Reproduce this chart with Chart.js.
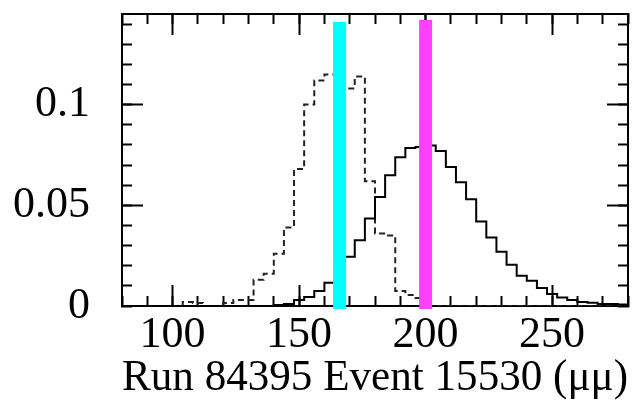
<!DOCTYPE html>
<html>
<head>
<meta charset="utf-8">
<title>Run 84395 Event 15530</title>
<script src="https://cdn.jsdelivr.net/npm/chart.js@4.4.1/dist/chart.umd.min.js"></script>
<style>
  html, body { margin: 0; padding: 0; background: #fff; }
  #wrap { width: 637px; height: 402px; }
</style>
</head>
<body>
<div id="wrap"><canvas id="histChart" width="637" height="402"></canvas></div>
<script>
// Bin edges (4 units wide); last entry closes the final bin
const binEdges = [80, 84, 88, 92, 96, 100, 104, 108, 112, 116,
                  120, 124, 128, 132, 136, 140, 144, 148, 152, 156,
                  160, 164, 168, 172, 176, 180, 184, 188, 192, 196,
                  200, 204, 208, 212, 216, 220, 224, 228, 232, 236,
                  240, 244, 248, 252, 256, 260, 264, 268, 272, 276, 280];

// Solid histogram (one value per bin)
const solidHist = [0, 0, 0, 0, 0, 0, 0, 0, 0, 0,
                   0, 0, 0, 0, 0, 0.0005, 0.001, 0.003, 0.0045, 0.0075,
                   0.0115, 0.017, 0.0245, 0.0327, 0.0434, 0.0541, 0.0649, 0.0739, 0.0785, 0.079,
                   0.0797, 0.077, 0.069, 0.0615, 0.053, 0.042, 0.034, 0.027, 0.0205, 0.015,
                   0.0125, 0.009, 0.006, 0.0042, 0.003, 0.002, 0.0016, 0.001, 0.001, 0.0008];

// Dashed histogram (one value per bin)
const dashedHist = [0, 0, 0, 0, 0, 0, 0.002, 0.0015, 0, 0,
                    0.0015, 0.003, 0.003, 0.013, 0.016, 0.026, 0.039, 0.068, 0.100, 0.112,
                    0.115, 0.114, 0.108, 0.114, 0.062, 0.036, 0.035, 0.0075, 0.0055, 0.004,
                    0, 0, 0, 0, 0, 0, 0, 0, 0, 0,
                    0, 0, 0, 0, 0, 0, 0, 0, 0, 0];

// Vertical markers
const markerX = [166, 200];
const markerTop = [0.141, 0.142];
const markerBottom = -0.0015;
const markerColors = ['#00ffff', '#ff40ff'];

// Axis ticks and labels
const xMinorTicks = [80, 90, 100, 110, 120, 130, 140, 150, 160, 170, 180,
                     190, 200, 210, 220, 230, 240, 250, 260, 270, 280];
const xMajorTicks = [100, 150, 200, 250];
const xLabelValues = [100, 150, 200, 250];
const yMinorTicks = [0, 0.01, 0.02, 0.03, 0.04, 0.05, 0.06, 0.07,
                     0.08, 0.09, 0.1, 0.11, 0.12, 0.13, 0.14];
const yMajorTicks = [0.05, 0.1];
const yLabelValues = [0, 0.05, 0.1];
const xTitle = 'Run 84395 Event 15530 (\u03bc\u03bc)';

const X_MIN = 80, X_MAX = 280, Y_MIN = 0, Y_MAX = 0.145;
const serif = { family: "'Liberation Serif', 'Times New Roman', serif", size: 44 };

// --- helpers ---
function toSteps(values) {
    return binEdges.map((x, i) => ({ x: x, y: values[Math.min(i, values.length - 1)] }));
}

function setTicks(list) {
    return scale => { scale.ticks = list.map(v => ({ value: v })); };
}

function hasLabel(list, value) {
    return list.some(v => Math.abs(v - value) < 1e-9);
}

// fix an axis to a given thickness and stop it from padding the chart area
function fixSize(horizontal, size) {
    return scale => {
        if (horizontal) scale.height = size; else scale.width = size;
        scale.paddingTop = 0;
        scale.paddingBottom = 0;
        scale.paddingLeft = 0;
        scale.paddingRight = 0;
    };
}

// Plain frame axis: ticks pointing inside, no labels
function frameAxis(position, tickList, tickLen, weight, size, showBorder) {
    const horizontal = position === 'top' || position === 'bottom';
    return {
        type: 'linear',
        position: position,
        min: horizontal ? X_MIN : Y_MIN,
        max: horizontal ? X_MAX : Y_MAX,
        weight: weight,
        border: { display: showBorder, color: '#000', width: 2 },
        grid: { drawOnChartArea: false, tickLength: tickLen, tickWidth: 2, tickColor: '#000' },
        ticks: { display: false, autoSkip: false },
        afterBuildTicks: setTicks(tickList),
        afterFit: fixSize(horizontal, size)
    };
}

// --- datasets ---
const datasets = [];
markerX.forEach((mx, i) => {
    datasets.push({
        data: [{ x: mx, y: markerBottom }, { x: mx, y: markerTop[i] }],
        borderColor: markerColors[i],
        borderWidth: 13,
        borderCapStyle: 'butt',
        pointRadius: 0,
        clip: false,
        order: 0
    });
});
datasets.push({
    data: toSteps(solidHist),
    stepped: true,
    borderColor: '#000',
    borderWidth: 2,
    pointRadius: 0,
    order: 1
});
datasets.push({
    data: toSteps(dashedHist),
    stepped: true,
    borderColor: '#222',
    borderWidth: 2,
    borderDash: [6, 4],
    pointRadius: 0,
    order: 2
});

const ctx = document.getElementById('histChart').getContext('2d');
const histChart = new Chart(ctx, {
    type: 'line',
    data: { datasets: datasets },
    options: {
        responsive: false,
        animation: false,
        events: [],
        layout: { padding: 0 },
        plugins: {
            legend: { display: false },
            tooltip: { enabled: false }
        },
        scales: {
            x: {
                type: 'linear',
                position: 'bottom',
                min: X_MIN,
                max: X_MAX,
                weight: 0,
                border: { display: true, color: '#000', width: 2 },
                grid: { drawOnChartArea: false, tickLength: -10, tickWidth: 2, tickColor: '#000' },
                ticks: {
                    autoSkip: false,
                    maxRotation: 0,
                    minRotation: 0,
                    padding: 13,
                    color: '#000',
                    font: serif,
                    callback: v => hasLabel(xLabelValues, v) ? String(v) : ''
                },
                afterBuildTicks: setTicks(xMinorTicks),
                title: {
                    display: true,
                    text: xTitle,
                    color: '#000',
                    font: Object.assign({}, serif, { lineHeight: 1.07 }),
                    padding: 0
                },
                afterFit: fixSize(true, 96)
            },
            xMajor: frameAxis('bottom', xMajorTicks, -21, -1, 0, false),
            xTop: frameAxis('top', xMinorTicks, -10, 0, 14, true),
            xTopMajor: frameAxis('top', xMajorTicks, -21, -1, 0, false),
            y: {
                type: 'linear',
                position: 'left',
                min: Y_MIN,
                max: Y_MAX,
                weight: 0,
                border: { display: true, color: '#000', width: 2 },
                grid: { drawOnChartArea: false, tickLength: -10, tickWidth: 2, tickColor: '#000' },
                ticks: {
                    autoSkip: false,
                    padding: 42,
                    color: '#000',
                    font: serif,
                    callback: v => hasLabel(yLabelValues, v) ? String(v) : ''
                },
                afterBuildTicks: setTicks(yMinorTicks),
                afterFit: fixSize(false, 122)
            },
            yMajor: frameAxis('left', yMajorTicks, -21, -1, 0, false),
            yRight: frameAxis('right', yMinorTicks, -10, 0, 9, true),
            yRightMajor: frameAxis('right', yMajorTicks, -21, -1, 0, false)
        }
    }
});
</script>
</body>
</html>
